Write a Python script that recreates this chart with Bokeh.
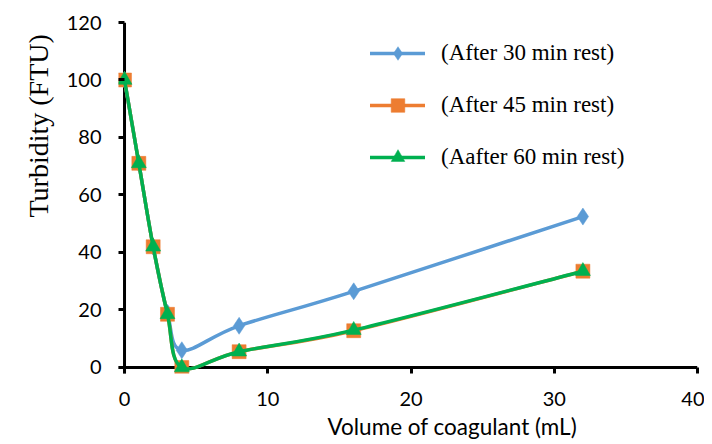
from bokeh.plotting import figure
from bokeh.models import Range1d, FixedTicker, Legend, LegendItem, Span, Title
from bokeh.embed import file_html
from bokeh.resources import INLINE

# ---------------- data ----------------
volume = [0, 1, 2, 3, 4, 8, 16, 32]
rest_30 = [100, 71, 42, 19, 6, 14.5, 26.5, 52.5]
rest_45 = [100, 71, 42, 18.5, 0, 5.5, 12.8, 33.5]
rest_60 = [100, 71, 42, 18.5, 0, 5.5, 13, 33.5]
series_names = ["(After 30 min rest)", "(After 45 min rest)", "(Aafter 60 min rest)"]
x_ticks = [0, 10, 20, 30, 40]
y_ticks = [0, 20, 40, 60, 80, 100, 120]
x_title = "Volume of coagulant (mL)"
y_title = "Turbidity (FTU)"

colors = ["#5B9BD5", "#ED7D31", "#00B050"]
markers = ["diamond", "square", "triangle"]
marker_sizes = [17, 14, 15]


def smooth_segments(xs, ys):
    """Excel-like smoothed line: cubic Bezier control points for each segment."""
    n = len(xs)
    seg = dict(x0=[], y0=[], x1=[], y1=[], cx0=[], cy0=[], cx1=[], cy1=[])
    for i in range(n - 1):
        a = i - 1 if i > 0 else i
        d = i + 2 if i + 2 < n else i + 1
        seg["x0"].append(xs[i]); seg["y0"].append(ys[i])
        seg["x1"].append(xs[i + 1]); seg["y1"].append(ys[i + 1])
        seg["cx0"].append(xs[i] + (xs[i + 1] - xs[a]) / 6.0)
        seg["cy0"].append(ys[i] + (ys[i + 1] - ys[a]) / 6.0)
        seg["cx1"].append(xs[i + 1] - (xs[d] - xs[i]) / 6.0)
        seg["cy1"].append(ys[i + 1] - (ys[d] - ys[i]) / 6.0)
    return seg


p = figure(
    output_backend="svg", toolbar_location=None,
    x_range=Range1d(-0.42, 40), y_range=Range1d(-2.087, 120),
    frame_width=579, frame_height=351,
    min_border_left=118, min_border_right=7, min_border_top=22, min_border_bottom=63,
    background_fill_color="white", border_fill_color="white",
)
p.outline_line_color = None
p.grid.visible = False

# axes: labels + ticks from the library; axis lines drawn at data zero
for ax in (p.xaxis[0], p.yaxis[0]):
    ax.axis_line_color = None
    ax.major_tick_line_color = "black"
    ax.major_tick_line_width = 3
    ax.major_tick_out = 0
    ax.major_tick_in = 6
    ax.minor_tick_line_color = None
    ax.major_label_text_font = "Lato"
    ax.major_label_text_font_size = "20px"
    ax.major_label_text_color = "black"
p.xaxis.ticker = FixedTicker(ticks=x_ticks)
p.yaxis.ticker = FixedTicker(ticks=y_ticks)
p.xaxis.major_label_standoff = 18
p.yaxis.major_label_standoff = 17

p.add_layout(Span(location=0, dimension="width", line_color="black", line_width=3, level="underlay"))
p.add_layout(Span(location=0, dimension="height", line_color="black", line_width=3, level="underlay"))

items = []
for ys, name, col, mk, ms in zip([rest_30, rest_45, rest_60], series_names, colors, markers, marker_sizes):
    seg = smooth_segments(volume, ys)
    r_line = p.bezier(x0="x0", y0="y0", x1="x1", y1="y1", cx0="cx0", cy0="cy0", cx1="cx1", cy1="cy1",
                      source=seg, line_color=col, line_width=3.5, line_cap="round")
    r_mark = p.scatter(volume, ys, marker=mk, size=ms, fill_color=col, line_color=col, line_width=0.5)
    items.append(LegendItem(label=name, renderers=[r_line, r_mark]))

legend = Legend(
    items=items, location=(252, 199),
    border_line_color=None, background_fill_alpha=0,
    label_text_font="Liberation Serif", label_text_font_size="23px", label_text_color="black",
    glyph_width=55, glyph_height=34, label_height=34, label_standoff=16,
    spacing=18, padding=0, margin=0,
)
p.add_layout(legend)

# axis titles
p.add_layout(Title(text=x_title, align="left", offset=209, text_font="Lato",
                   text_font_size="22.5px", text_font_style="normal", text_color="black",
                   standoff=4), "below")
p.add_layout(Title(text=y_title, align="left", offset=156, text_font="Liberation Serif",
                   text_font_size="28px", text_font_style="normal", text_color="black",
                   standoff=19), "left")

open("out.html", "w").write(file_html(p, INLINE))
